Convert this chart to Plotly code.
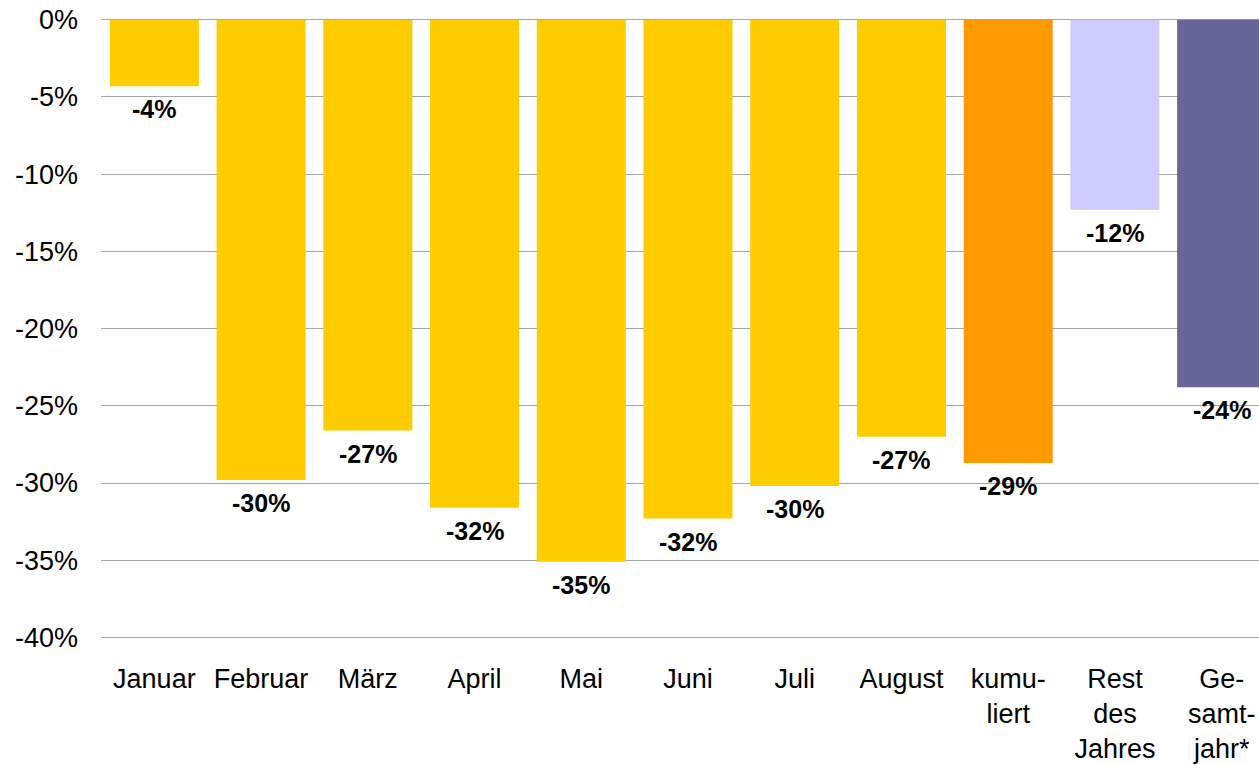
import plotly.graph_objects as go

categories = ["Januar", "Februar", "März", "April", "Mai", "Juni", "Juli", "August",
              "kumu-<br>liert", "Rest<br>des<br>Jahres", "Ge-<br>samt-<br>jahr*"]
values = [-4.3, -29.8, -26.6, -31.6, -35.1, -32.3, -30.2, -27.0, -28.7, -12.3, -23.8]
labels = ["-4%", "-30%", "-27%", "-32%", "-35%", "-32%", "-30%", "-27%", "-29%", "-12%", "-24%"]
colors = ["#FFCC00"] * 8 + ["#FF9900", "#CCCCFF", "#666699"]
ytick_vals = [0, -5, -10, -15, -20, -25, -30, -35, -40]
ytick_text = ["0%", "-5%", "-10%", "-15%", "-20%", "-25%", "-30%", "-35%", "-40%"]

fig = go.Figure()
fig.add_trace(go.Bar(x=categories, y=values, marker=dict(color=colors, line=dict(width=0)),
                     hoverinfo="skip"))

for c, v, t in zip(categories, values, labels):
    fig.add_annotation(x=c, y=v, text="<b>" + t + "</b>", showarrow=False,
                       yanchor="top", yshift=-7,
                       font=dict(family="Liberation Sans, Arial", size=25, color="#000000"))

fig.update_layout(
    width=1259, height=765,
    margin=dict(l=101, r=0, t=12, b=126),
    paper_bgcolor="white", plot_bgcolor="white",
    bargap=0.166,
    showlegend=False,
    hovermode=False,
    font=dict(family="Liberation Sans, Arial", size=27, color="#000000"),
    xaxis=dict(range=[-0.5, 10.35], showline=False, showgrid=False, ticks="",
               tickfont=dict(size=27), automargin=False, ticklabelstandoff=21,
               ticklabeloverflow="allow"),
    yaxis=dict(range=[-40.1, 0.5], tickvals=ytick_vals, ticktext=ytick_text,
               showgrid=True, gridcolor="#A6A6A6", gridwidth=1, zeroline=False,
               showline=False, ticks="", tickfont=dict(size=27),
               automargin=False, ticklabelstandoff=22, ticklabeloverflow="allow"),
)

fig.write_html("out.html", config={"displayModeBar": False},
               post_script="document.body.style.margin='0';document.body.style.overflow='hidden';")
